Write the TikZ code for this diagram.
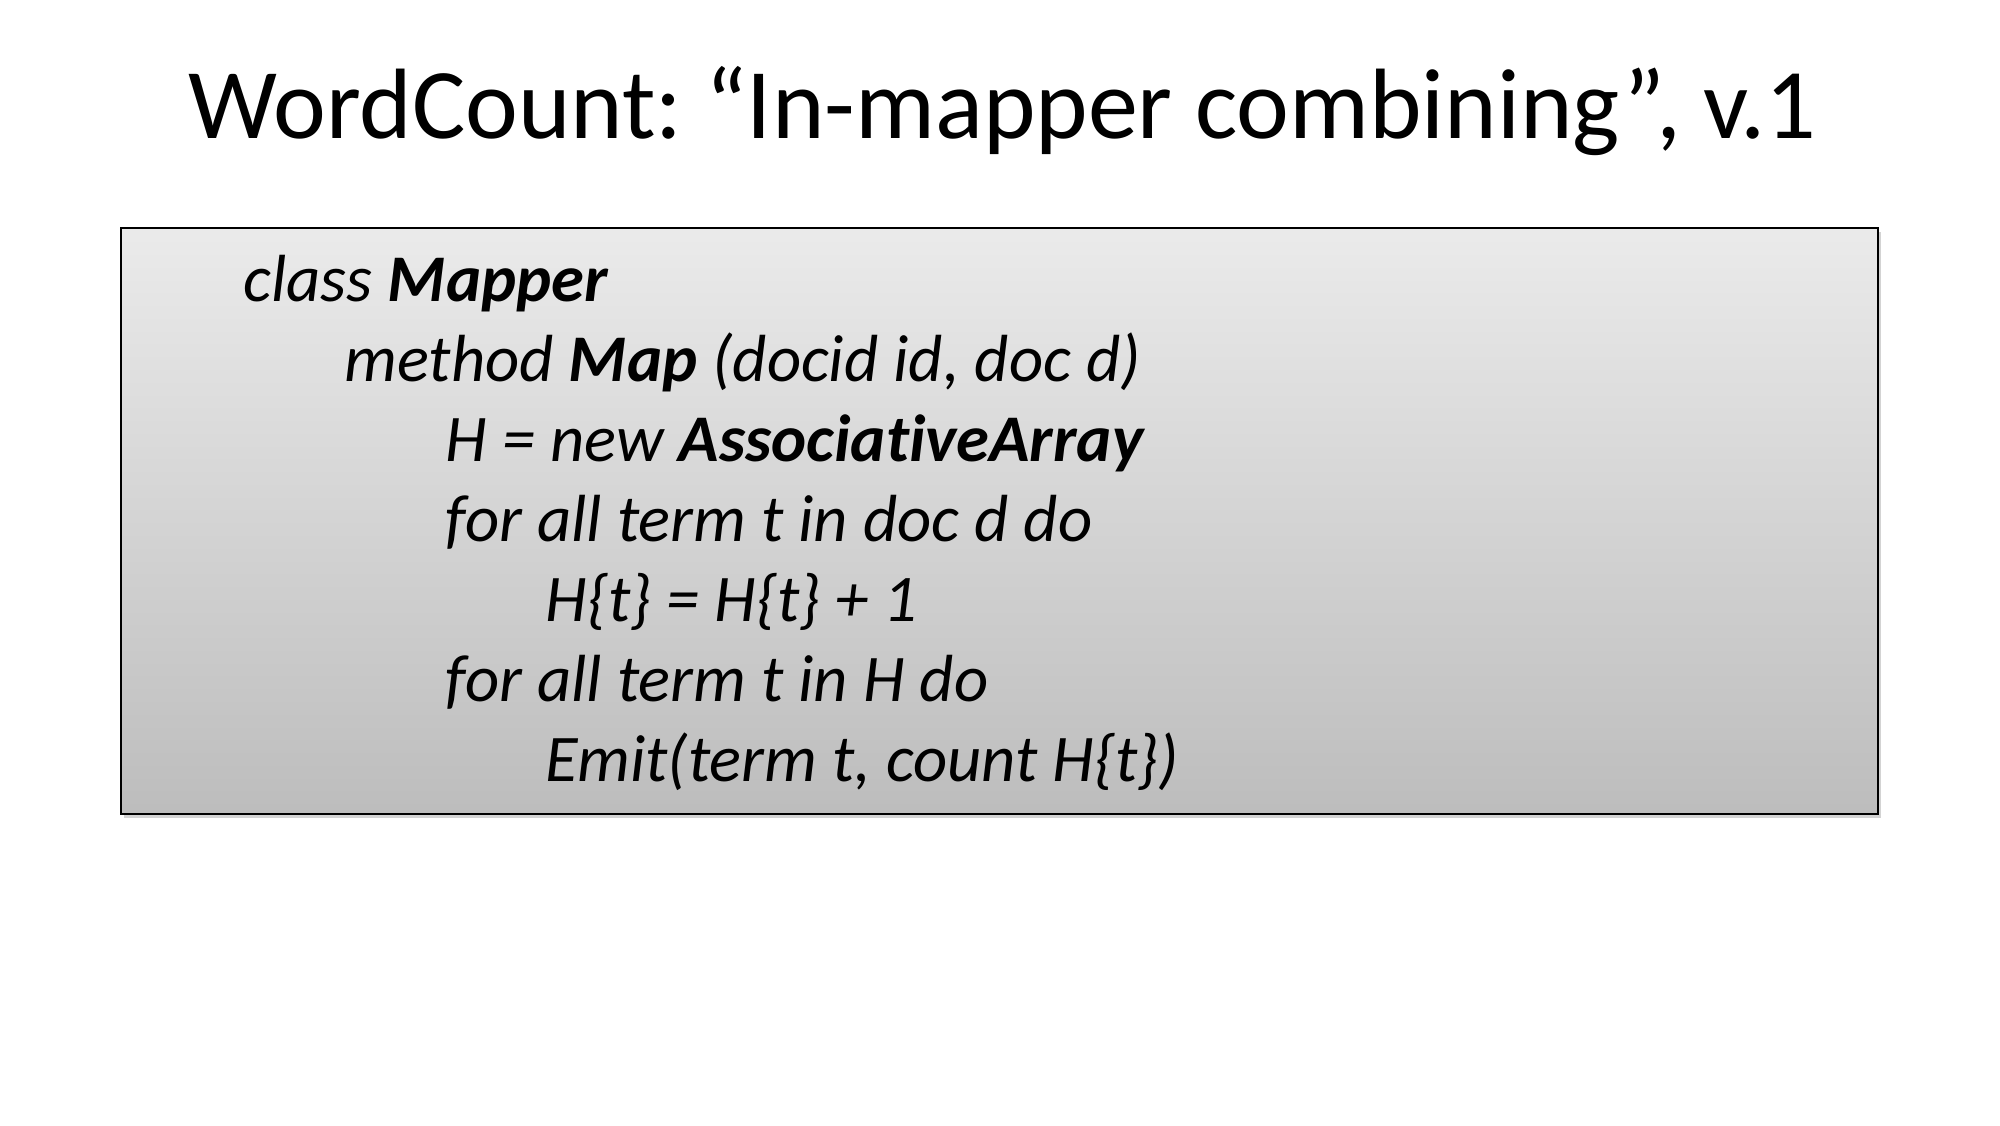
\documentclass[tikz,border=0pt]{standalone}
\usepackage{fontspec}
\setmainfont[Ligatures=NoCommon]{Carlito}
\frenchspacing
\usetikzlibrary{shadows}
\tikzset{
  codebox/.style={draw=black, line width=0.9pt, inner sep=0pt,
    top color=black!8, bottom color=black!26,
    minimum width=632.4pt, minimum height=211pt,
    drop shadow={opacity=0.35, shadow xshift=1.2pt, shadow yshift=-1.6pt}},
  codeline/.style={anchor=base west, inner sep=0pt, font=\fontsize{24}{28.8}\selectfont\itshape},
  titletext/.style={anchor=base, inner sep=0pt, font=\fontsize{36}{43}\selectfont}
}
\begin{document}
\begin{tikzpicture}[x=1pt,y=1pt]
\useasboundingbox (0,0) rectangle (720,-405);
\node[titletext] (title) at (361,-50) {WordCount: “In-mapper combining”, v.1};
\node[codebox] (box) at (359.8,-187.5) {};
\node[codeline] (l1) at (87.5,-108.4) {class \textbf{Mapper}};
\node[codeline] (l2) at (123.8,-137.2) {method \textbf{Map} (docid id, doc d)};
\node[codeline] (l3) at (160.2,-166.0) {H = new \textbf{AssociativeArray}};
\node[codeline] (l4) at (160.2,-194.8) {for all term t in doc d do};
\node[codeline] (l5) at (196.2,-223.6) {H\{t\} = H\{t\} + 1};
\node[codeline] (l6) at (160.2,-252.4) {for all term t in H do};
\node[codeline] (l7) at (196.2,-281.2) {Emit(term t, count H\{t\})};
\end{tikzpicture}
\end{document}
